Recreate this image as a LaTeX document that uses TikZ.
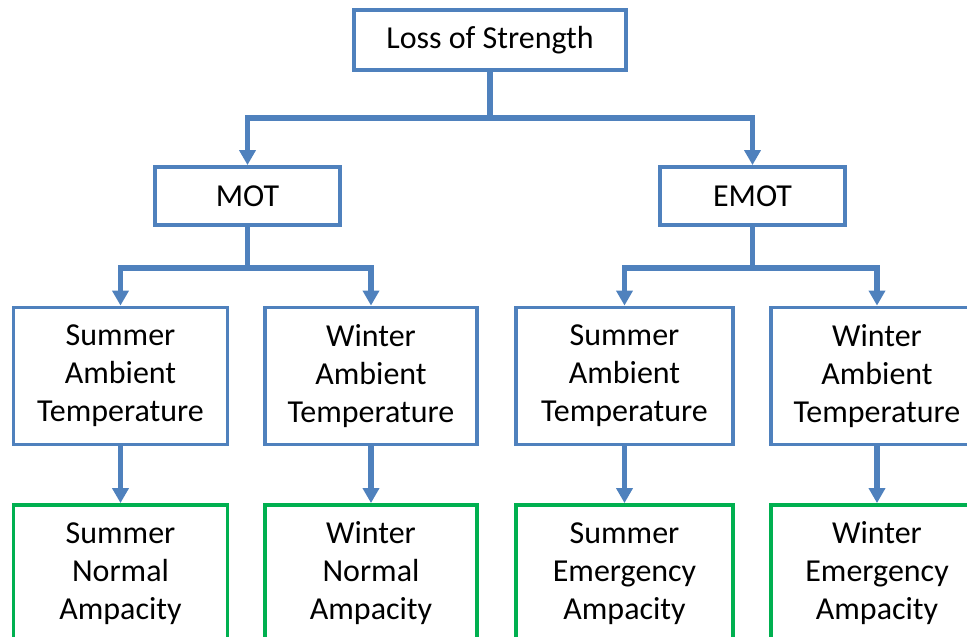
\documentclass[tikz,border=0pt]{standalone}
\usepackage{fontspec}
\setmainfont{Carlito}
\usetikzlibrary{positioning,arrows.meta,calc}
\definecolor{boxblue}{HTML}{4F81BD}
\definecolor{boxgreen}{HTML}{00B050}
\tikzset{
  >={Triangle[length=3mm,width=3.2mm]},
  procbox/.style={draw=boxblue,line width=2.2pt,fill=white,align=center,
    inner sep=2pt,font=\fontsize{18.2}{21.6}\selectfont},
  topbox/.style={procbox,minimum width=5.44cm,minimum height=1.2cm},
  midbox/.style={procbox,minimum width=3.7cm,minimum height=1.16cm},
  tempbox/.style={procbox,minimum height=2.74cm},
  ampbox/.style={procbox,draw=boxgreen,minimum height=2.74cm},
  flow/.style={draw=boxblue,line width=3.2pt},
  flowarr/.style={flow,->},
}
\begin{document}
\begin{tikzpicture}
  \useasboundingbox (0,0) rectangle (19.34,-12.72);
  \clip (0,0) rectangle (19.34,-12.72);
  \node[topbox] (loss) at (9.8,-0.8) {Loss of Strength};
  \node[midbox] (mot) at (4.95,-3.92) {MOT};
  \node[midbox] (emot) at (15.05,-3.92) {EMOT};
  \coordinate (j0) at (9.8,-2.36);
  \coordinate (jm) at (4.95,-5.36);
  \coordinate (je) at (15.05,-5.36);
  \foreach \nm/\lbl/\xs/\bw in {tsm/{Summer\\Ambient\\Temperature}/2.41/4.28,
                                twm/{Winter\\Ambient\\Temperature}/7.42/4.24,
                                tse/{Summer\\Ambient\\Temperature}/12.49/4.34,
                                twe/{Winter\\Ambient\\Temperature}/17.54/4.24} {
    \node[tempbox,minimum width=\bw cm] (\nm) at (\xs,-7.52) {\lbl};
  }
  \foreach \nm/\lbl/\xs/\bw in {asm/{Summer\\Normal\\Ampacity}/2.41/4.28,
                                awm/{Winter\\Normal\\Ampacity}/7.42/4.24,
                                ase/{Summer\\Emergency\\Ampacity}/12.49/4.34,
                                awe/{Winter\\Emergency\\Ampacity}/17.54/4.24} {
    \node[ampbox,minimum width=\bw cm] (\nm) at (\xs,-11.47) {\lbl};
  }
  % connectors
  \draw[flow] (loss) -- (j0);
  \draw[flowarr] (j0) -| (mot);
  \draw[flowarr] (j0) -| (emot);
  \draw[flow] (mot) -- (jm);
  \draw[flowarr] (jm) -| (tsm);
  \draw[flowarr] (jm) -| (twm);
  \draw[flow] (emot) -- (je);
  \draw[flowarr] (je) -| (tse);
  \draw[flowarr] (je) -| (twe);
  \foreach \a/\b in {tsm/asm,twm/awm,tse/ase,twe/awe}
    \draw[flowarr] (\a) -- (\b);
\end{tikzpicture}
\end{document}
